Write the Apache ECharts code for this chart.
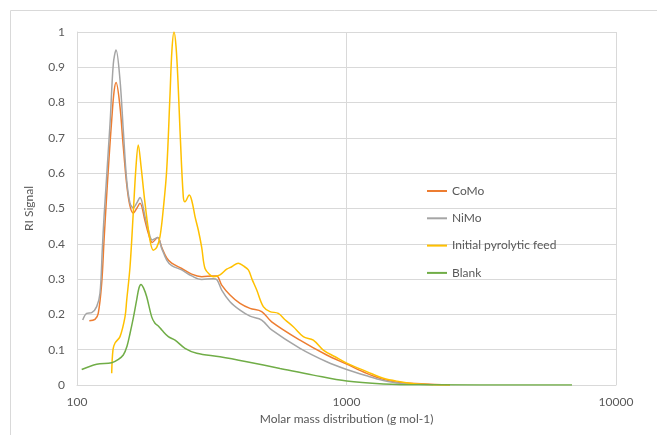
<!DOCTYPE html>
<html>
<head>
<meta charset="utf-8">
<script src="https://cdn.jsdelivr.net/npm/echarts@6/dist/echarts.min.js"></script>
<style>html,body{margin:0;padding:0;background:#fff}#chart{width:657px;height:435px}</style>
</head>
<body>
<div id="chart"></div>
<script>
// Molar mass (g/mol) and RI signal for each sample
const comoMass = [111.1,116.6,119.9,123.5,126.0,128.1,131.4,134.5,137.2,139.6,144.4,148.5,155.0,161.8,166.5,171.3,178.8,183.9,190.3,199.3,206.2,215.2,224.6,244.6,266.4,290.2,320.4,329.9,344.3,369.6,402.6,438.5,484.5,527.7,672.1,844.3,1001.7,1188.5,1369.6,1579,2421];
const comoSignal = [0.182,0.186,0.203,0.289,0.41,0.505,0.64,0.75,0.83,0.857,0.788,0.675,0.533,0.487,0.50,0.515,0.465,0.43,0.404,0.418,0.39,0.36,0.345,0.33,0.314,0.307,0.309,0.309,0.283,0.255,0.231,0.217,0.208,0.179,0.127,0.085,0.059,0.033,0.016,0.007,0.0];

const nimoMass = [105.0,108.6,113.4,118.3,121.7,124.1,126.0,132.6,136.4,139.6,144.4,148.5,152.9,157.3,161.8,166.5,171.3,178.8,183.9,190.3,199.3,206.2,215.2,224.6,244.6,266.4,290.2,320.4,329.9,344.3,369.6,402.6,438.5,484.5,527.7,672.1,844.3,1001.7,1188.5,1369.6,1579,2099];
const nimoSignal = [0.184,0.203,0.205,0.222,0.26,0.382,0.477,0.74,0.91,0.949,0.864,0.722,0.58,0.515,0.502,0.515,0.531,0.477,0.44,0.411,0.418,0.387,0.354,0.338,0.326,0.309,0.299,0.301,0.299,0.269,0.236,0.212,0.195,0.184,0.156,0.104,0.066,0.044,0.026,0.013,0.005,0.001];

const feedMass = [134.5,136.0,138.4,144.4,150.7,152.9,157.3,161.8,165.6,168.8,172.8,178.8,186.6,191.9,197.6,203.2,209.1,215.2,221.3,225.1,229.1,233.0,237.0,241.1,248.0,251.6,261.0,267.1,274.1,281.9,290.2,298.5,311.5,320.4,339.3,359.3,375.0,396.7,413.0,432.3,446.0,464.4,491.2,520.1,558.4,591.4,634.7,691.3,753.0,820.1,907,1001.7,1188.5,1369.6,1579,1821.5,2421];
const feedSignal = [0.033,0.10,0.119,0.137,0.193,0.24,0.335,0.49,0.62,0.68,0.62,0.515,0.41,0.382,0.39,0.42,0.50,0.609,0.82,0.95,1.0,0.96,0.86,0.722,0.533,0.519,0.538,0.52,0.477,0.439,0.39,0.33,0.312,0.307,0.312,0.328,0.335,0.345,0.338,0.326,0.30,0.269,0.222,0.208,0.203,0.185,0.165,0.137,0.127,0.099,0.08,0.062,0.038,0.019,0.0095,0.003,0.0];

const blankMass = [104.1,118.3,134.5,142.0,148.5,153.3,157.3,161.8,166.5,169.8,172.8,176.5,181.4,189.3,194.7,200.3,206.8,218.2,231.1,251.6,278.1,339.3,426.4,566.6,753.0,1001.7,1369.6,1874,6866];
const blankSignal = [0.044,0.059,0.063,0.072,0.085,0.11,0.146,0.19,0.241,0.275,0.285,0.275,0.25,0.193,0.175,0.167,0.155,0.137,0.127,0.104,0.09,0.08,0.066,0.047,0.028,0.011,0.003,0.0005,0.0];

const seriesNames = ['CoMo','NiMo','Initial pyrolytic feed','Blank'];
const xTitle = 'Molar mass distribution (g mol-1)';
const yTitle = 'RI Signal';

const zip = (xs, ys) => xs.map((x, i) => [x, ys[i]]);
const colors = ['#ED7D31','#A5A5A5','#FFC000','#70AD47'];
const datasets = [zip(comoMass, comoSignal), zip(nimoMass, nimoSignal), zip(feedMass, feedSignal), zip(blankMass, blankSignal)];

const font = 'Lato, "Open Sans", sans-serif';
const chart = echarts.init(document.getElementById('chart'), null, {renderer: 'canvas'});
chart.setOption({
  animation: false,
  textStyle: {fontFamily: font},
  graphic: [{
    type: 'rect', shape: {x: 10.5, y: 10.5, width: 800, height: 600},
    style: {fill: 'none', stroke: '#d9d9d9', lineWidth: 1}, silent: true
  }],
  grid: {left: 77, right: 41, top: 32, bottom: 50, containLabel: false},
  legend: {
    orient: 'vertical', left: 422, top: 180, itemWidth: 20, itemHeight: 2, itemGap: 15.3,
    icon: 'rect',
    textStyle: {color: '#595959', fontSize: 12, fontFamily: font},
    data: seriesNames
  },
  xAxis: {
    type: 'log', logBase: 10, min: 100, max: 10000,
    name: xTitle, nameLocation: 'middle', nameGap: 22,
    nameTextStyle: {color: '#595959', fontSize: 12, fontFamily: font},
    axisLine: {show: true, lineStyle: {color: '#d9d9d9'}},
    axisTick: {show: false},
    axisLabel: {color: '#595959', fontSize: 12, margin: 11, fontFamily: font,
      formatter: v => String(Math.round(v))},
    splitLine: {show: true, lineStyle: {color: '#d9d9d9', width: 1}},
    minorSplitLine: {show: false}
  },
  yAxis: {
    type: 'value', min: 0, max: 1, interval: 0.1,
    name: yTitle, nameLocation: 'middle', nameGap: 42, nameRotate: 90,
    nameTextStyle: {color: '#595959', fontSize: 12, fontFamily: font},
    axisLine: {show: true, lineStyle: {color: '#d9d9d9'}},
    axisTick: {show: false},
    axisLabel: {color: '#595959', fontSize: 12, margin: 12, fontFamily: font},
    splitLine: {show: true, lineStyle: {color: '#d9d9d9', width: 1}}
  },
  series: seriesNames.map((name, i) => ({
    name: name, type: 'line', data: datasets[i],
    symbol: 'none', smooth: 0.35,
    lineStyle: {color: colors[i], width: 1.5},
    itemStyle: {color: colors[i]}
  }))
});
</script>
</body>
</html>
